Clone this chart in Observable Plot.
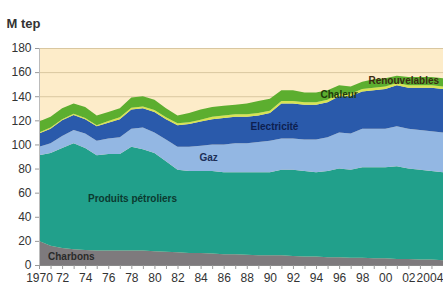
<!DOCTYPE html>
<html><head><meta charset="utf-8">
<script src="https://cdn.jsdelivr.net/npm/d3@7"></script>
<script src="https://cdn.jsdelivr.net/npm/@observablehq/plot@0.6"></script>
<style>
body{margin:0;background:#fff;}
#chart svg{display:block;}
</style>
</head><body><div id="chart"></div>
<script>
const years = [1970,1971,1972,1973,1974,1975,1976,1977,1978,1979,1980,1981,1982,1983,1984,1985,1986,1987,1988,1989,1990,1991,1992,1993,1994,1995,1996,1997,1998,1999,2000,2001,2002,2003,2004,2005];
const charbons      = [20,16,14,13,12.5,12,12,12,12,12,11.5,11,10.5,10,10,9.5,9,9,8.5,8,8,8,7.5,7,7,6.5,6.5,6,6,5.5,5.5,5,5,4.5,4.5,4];
const petroliers    = [71,77,83,88,84.5,79,80,80,86,84,81.5,75,68.5,68,68,68.5,68,68,68.5,69,69,71,71.5,71,70,71.5,73.5,73,75,75.5,75.5,77,75,74.5,73.5,73];
const gaz           = [7,8,10,11,12,12,13,14,15,18,17,18,19,20,21,22,23,24,24,25,26,26,26,26,27,28,30,30,32,32,32,33,33,33,33,33];
const electricite   = [11,12,13,12.5,12,12,13,15,16,16,17,17,18,19,20,21,22,22,22,22,23,29,29,29,29,29,30,31,31,32,33,34,34,35,36,36];
const chaleur       = [1,1,1,1,1,1,1.5,1.5,1.5,1.5,1.5,1.5,1.5,1.5,1.5,2,2,2,2,2,2,2,2,2,2,2,2,2,2,2,2,2,2,2,2,2];
const renouvelables = [9,9,9,8.5,9,8,7.5,7.5,8.5,8.5,8.5,7.5,6.5,7.5,8.5,8,8,8,9,10,10,9,9,8,8,8,7,6,6,7,7,6,7,7,7,7];

const seriesNames = ["Charbons","Produits pétroliers","Gaz","Electricité","Chaleur","Renouvelables"];
const seriesValues = [charbons, petroliers, gaz, electricite, chaleur, renouvelables];
const seriesColors = ["#7e7a7d","#21a08b","#93b7e3","#2a5aab","#d6e453","#5cae2f"];
const labelColors  = ["#2a2a2a","#0b3a30","#1c2f57","#0d2050","#1f3a0b","#3a2a12"];
// label placement: year and vertical pixel nudge for each series label
const labelYears = [1972.8, 1978.1, 1984.7, 1990.4, 1996, 2001.6];
const labelNudge = [0, 5, 3, 0, 6, -4];

const yTicks = [0,20,40,60,80,100,120,140,160,180];

const data = [];
seriesNames.forEach((s, i) => years.forEach((yr, j) => data.push({series: s, year: yr, value: seriesValues[i][j]})));

// label y from the stacked data at the nearest year
const labels = seriesNames.map((s, i) => {
  const j = years.indexOf(Math.round(labelYears[i]));
  let base = 0;
  for (let k = 0; k < i; k++) base += seriesValues[k][j];
  return {name: s, year: labelYears[i], y: base + seriesValues[i][j] / 2, dy: labelNudge[i], color: labelColors[i]};
});

const fmtYear = d => (d % 2 !== 0 || d >= 2004) ? "" : (d === 1970 ? String(d) : String(d).slice(2));

const chart = Plot.plot({
  width: 443,
  height: 287,
  marginLeft: 39,
  marginRight: 0,
  marginTop: 48,
  marginBottom: 22,
  style: {fontFamily: "'Liberation Sans Narrow','Liberation Sans',Arial,sans-serif", fontSize: "12px", color: "#333", background: "#fff"},
  x: {domain: [1970, 2005]},
  y: {domain: [0, 180]},
  color: {domain: seriesNames, range: seriesColors},
  marks: [
    Plot.frame({fill: "#fdecc9", stroke: null}),
    Plot.gridY(yTicks, {stroke: "#d9c7a0", strokeOpacity: 1, strokeWidth: 1}),
    Plot.areaY(data, Plot.stackY({x: "year", y: "value", z: "series", fill: "series", order: seriesNames})),
    Plot.ruleY([0], {stroke: "#888"}),
    Plot.ruleX([1970], {y1: 0, y2: 180, stroke: "#bbb"}),
    Plot.axisY({ticks: yTicks, tickSize: 4, tickPadding: 4, label: null, fontSize: 12, stroke: "#999"}),
    Plot.axisX({ticks: years.filter(d => d <= 2004), tickSize: 4, tickPadding: 4, tickFormat: fmtYear, label: null, fontSize: 12, stroke: "#999"}),
    Plot.axisX([2004], {tickSize: 0, tickPadding: 8, tickFormat: d => String(d), label: null, fontSize: 12, dx: -2}),
    Plot.text(labels, {x: "year", y: "y", text: "name", dy: "dy", fill: "color", fontSize: 10, fontWeight: "bold"}),
    Plot.text(["M tep"], {frameAnchor: "top-left", dx: -33, dy: -30, fontSize: 13, fontWeight: "bold", fill: "#333", textAnchor: "start"})
  ]
});
document.getElementById("chart").append(chart);
</script>
</body></html>
